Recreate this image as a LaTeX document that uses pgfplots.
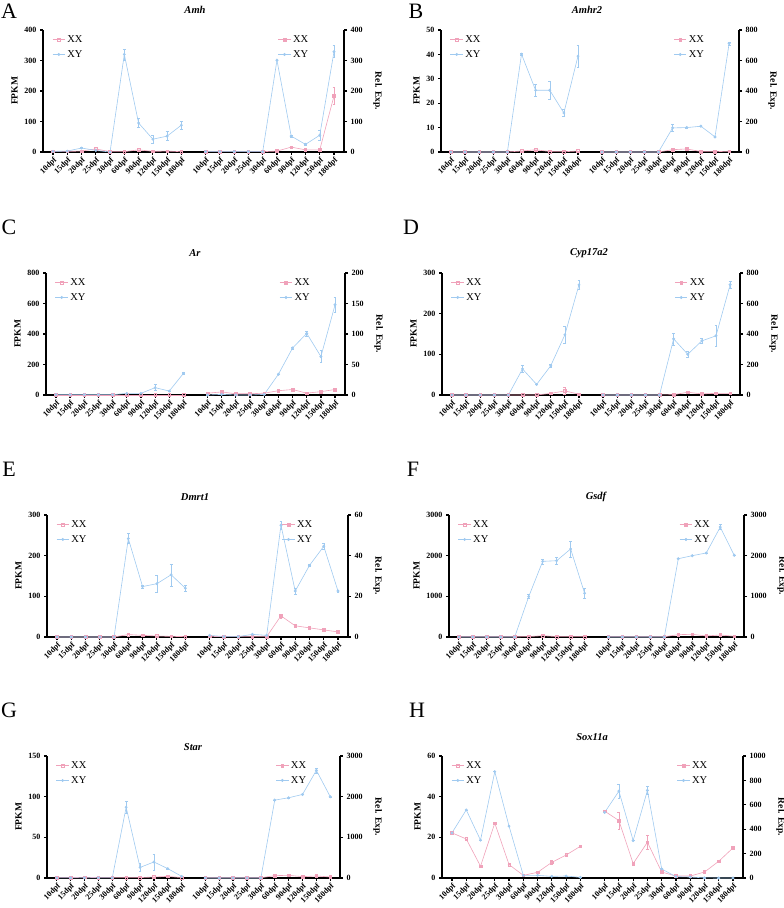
\documentclass[border=0pt]{standalone}
\usepackage{fontspec}
\setmainfont{Liberation Serif}
\usepackage{pgfplots}
\pgfplotsset{compat=1.18}
\definecolor{pinkc}{RGB}{240,162,186}
\definecolor{bluec}{RGB}{160,202,240}
\pgfplotsset{
 common/.style={scale only axis, height=122pt, xmin=-0.7, xmax=20.4, ymin=0, clip=false,
   axis line style={line width=1.2pt, black}, tick align=outside, major tick length=3pt,
   every tick/.style={black, line width=1.2pt},
   /pgf/number format/assume math mode=true, /pgf/number format/1000 sep={},
   tick label style={font=\bfseries\fontsize{8}{9}\selectfont},
   label style={font=\bfseries\fontsize{9.5}{10}\selectfont},
   legend style={draw=none, fill=none, font=\fontsize{10.5}{11}\selectfont, row sep=2.5pt},
   legend cell align=left,
   legend image code/.code={\draw[mark repeat=2,mark phase=2] plot coordinates {(0cm,0cm) (0.22cm,0cm) (0.44cm,0cm)};},
 },
 Lax/.style={common, axis x line*=bottom, axis y line*=left, ylabel={FPKM},
   xtick={0,1,2,3,4,5,6,7,8,9,10.7,11.7,12.7,13.7,14.7,15.7,16.7,17.7,18.7,19.7},
   xticklabels={10dpf,15dpf,20dpf,25dpf,30dpf,60dpf,90dpf,120dpf,150dpf,180dpf,10dpf,15dpf,20dpf,25dpf,30dpf,60dpf,90dpf,120dpf,150dpf,180dpf},
   x tick label style={rotate=45, anchor=north east, inner sep=1pt},
   legend style={at={(0.02,0.99)}, anchor=north west}},
 Rax/.style={common, axis y line*=right, axis x line=none, ylabel={Rel. Exp.}, ylabel style={rotate=180}, ylabel shift=4pt,
   legend style={at={(0.77,0.99)}, anchor=north west}},
 ebar/.style={/pgfplots/error bars/y dir=both, /pgfplots/error bars/y explicit,
   /pgfplots/error bars/error bar style={line width=0.5pt},
   /pgfplots/error bars/error mark options={rotate=90, mark size=1.4pt, line width=0.5pt}},
 sXXL/.style={pinkc, mark=square, mark size=1.3pt, line width=0.6pt, mark options={solid,line width=0.5pt,fill=white}, ebar},
 sXYL/.style={bluec, mark=*, mark size=1.1pt, line width=0.6pt, mark options={solid}, ebar},
 sXXR/.style={pinkc, mark=square*, mark size=1.3pt, line width=0.6pt, mark options={solid}, ebar},
 sXYR/.style={bluec, mark=*, mark size=1.2pt, line width=0.6pt, mark options={solid}, ebar},
}
\begin{document}
\begin{tikzpicture}
\useasboundingbox (0pt,0pt) rectangle (784pt,908pt);
% ---------------- A: Amh
\node[font=\fontsize{22}{24}\selectfont] at (9pt,897pt) {A};
\node[font=\bfseries\itshape\fontsize{10.5}{12}\selectfont] at (195pt,898pt) {Amh};
\begin{axis}[Lax, at={(43pt,756pt)}, anchor=south west, width=301pt, ymax=400, ytick={0,100,200,300,400}]
\addplot[sXXL] table[x=x,y=y,y error=e] {
x y e
0 2 0
1 2 0
2 3 0
3 10 0
4 1 0
5 1 0
6 7 0
7 2 0
8 3 0
9 1 0
};
\addplot[sXYL] table[x=x,y=y,y error=e] {
x y e
0 2 0
1 3 0
2 13 2
3 5 0
4 0 0
5 320 18
6 95 15
7 42 12
8 52 15
9 88 12
};
\legend{XX,XY}
\end{axis}
\begin{axis}[Rax, at={(43pt,756pt)}, anchor=south west, width=301pt, ymax=400, ytick={0,100,200,300,400}]
\addplot[sXXR] table[x=x,y=y,y error=e] {
x y e
10.7 1 0
11.7 1 0
12.7 1 0
13.7 1 0
14.7 1 0
15.7 3 0
16.7 16 0
17.7 7 0
18.7 7 0
19.7 184 28
};
\addplot[sXYR] table[x=x,y=y,y error=e] {
x y e
10.7 1 0
11.7 1 0
12.7 1 0
13.7 1 0
14.7 1 0
15.7 301 0
16.7 52 3
17.7 25 3
18.7 55 15
19.7 329 20
};
\legend{XX,XY}
\end{axis}
% ---------------- B: Amhr2
\node[font=\fontsize{22}{24}\selectfont] at (416pt,897pt) {B};
\node[font=\bfseries\itshape\fontsize{10.5}{12}\selectfont] at (587pt,898pt) {Amhr2};
\begin{axis}[Lax, at={(441pt,756pt)}, anchor=south west, width=298pt, ymax=50, ytick={0,10,20,30,40,50}]
\addplot[sXXL] table[x=x,y=y,y error=e] {
x y e
0 0 0
1 0 0
2 0 0
3 0 0
4 0 0
5 0.4 0
6 0.9 0
7 0.2 0
8 0.1 0
9 0.4 0
};
\addplot[sXYL] table[x=x,y=y,y error=e] {
x y e
0 0 0
1 0 0
2 0 0
3 0 0
4 0 0
5 40.1 0.5
6 25.3 2.5
7 25.3 3.5
8 16 1.5
9 39.3 4.5
};
\legend{XX,XY}
\end{axis}
\begin{axis}[Rax, at={(441pt,756pt)}, anchor=south west, width=298pt, ymax=800, ytick={0,200,400,600,800}]
\addplot[sXXR] table[x=x,y=y,y error=e] {
x y e
10.7 0 0
11.7 0 0
12.7 0 0
13.7 0 0
14.7 0 0
15.7 15 0
16.7 20 0
17.7 3 0
18.7 2 0
19.7 5 0
};
\addplot[sXYR] table[x=x,y=y,y error=e] {
x y e
10.7 0 0
11.7 0 0
12.7 0 0
13.7 0 0
14.7 0 0
15.7 158 25
16.7 160 5
17.7 169 0
18.7 99 5
19.7 712 10
};
\legend{XX,XY}
\end{axis}
% ---------------- C: Ar
\node[font=\fontsize{22}{24}\selectfont] at (9pt,681pt) {C};
\node[font=\bfseries\itshape\fontsize{10.5}{12}\selectfont] at (195pt,655pt) {Ar};
\begin{axis}[Lax, at={(46pt,513pt)}, anchor=south west, width=299pt, ymax=800, ytick={0,200,400,600,800}]
\addplot[sXXL] table[x=x,y=y,y error=e] {
x y e
0 1 0
1 1 0
2 1 0
3 1 0
4 1 0
5 1 0
6 1 0
7 1 0
8 1 0
9 1 0
};
\addplot[sXYL] table[x=x,y=y,y error=e] {
x y e
0 2 0
1 2 0
2 2 0
3 2 0
4 2 0
5 11 0
6 11 0
7 48 20
8 26 0
9 142 5
};
\legend{XX,XY}
\end{axis}
\begin{axis}[Rax, at={(46pt,513pt)}, anchor=south west, width=299pt, ymax=200, ytick={0,50,100,150,200}]
\addplot[sXXR] table[x=x,y=y,y error=e] {
x y e
10.7 3 0
11.7 5 0
12.7 2 0
13.7 2 0
14.7 3 0
15.7 7 0
16.7 9 0
17.7 3 0
18.7 5.5 0
19.7 9 0
};
\addplot[sXYR] table[x=x,y=y,y error=e] {
x y e
10.7 0 0
11.7 1 0
12.7 0 0
13.7 0 0
14.7 1 0
15.7 34 0
16.7 77 2
17.7 101 4
18.7 63 10
19.7 148 12
};
\legend{XX,XY}
\end{axis}
% ---------------- D: Cyp17a2
\node[font=\fontsize{22}{24}\selectfont] at (411pt,681pt) {D};
\node[font=\bfseries\itshape\fontsize{10.5}{12}\selectfont] at (589pt,655pt) {Cyp17a2};
\begin{axis}[Lax, at={(442pt,513pt)}, anchor=south west, width=298pt, ymax=300, ytick={0,100,200,300}]
\addplot[sXXL] table[x=x,y=y,y error=e] {
x y e
0 0 0
1 0 0
2 0 0
3 0 0
4 0 0
5 0 0
6 0 0
7 4 0
8 10 8
9 2 0
};
\addplot[sXYL] table[x=x,y=y,y error=e] {
x y e
0 0 0
1 0 0
2 0 0
3 0 0
4 0 0
5 64 8
6 26 0
7 72 3
8 148 20
9 271 10
};
\legend{XX,XY}
\end{axis}
\begin{axis}[Rax, at={(442pt,513pt)}, anchor=south west, width=298pt, ymax=800, ytick={0,200,400,600,800}]
\addplot[sXXR] table[x=x,y=y,y error=e] {
x y e
10.7 0 0
11.7 0 0
12.7 0 0
13.7 0 0
14.7 0 0
15.7 2 0
16.7 18 0
17.7 7 0
18.7 11 0
19.7 11 0
};
\addplot[sXYR] table[x=x,y=y,y error=e] {
x y e
10.7 0 0
11.7 0 0
12.7 0 0
13.7 0 0
14.7 0 0
15.7 368 40
16.7 267 20
17.7 355 15
18.7 388 70
19.7 723 20
};
\legend{XX,XY}
\end{axis}
% ---------------- E: Dmrt1
\node[font=\fontsize{22}{24}\selectfont] at (9pt,439pt) {E};
\node[font=\bfseries\itshape\fontsize{10.5}{12}\selectfont] at (195pt,411pt) {Dmrt1};
\begin{axis}[Lax, at={(47pt,271pt)}, anchor=south west, width=301pt, ymax=300, ytick={0,100,200,300}]
\addplot[sXXL] table[x=x,y=y,y error=e] {
x y e
0 0 0
1 0 0
2 0 0
3 0 0
4 0 0
5 6 0
6 4 0
7 2.5 0
8 1.5 0
9 1 0
};
\addplot[sXYL] table[x=x,y=y,y error=e] {
x y e
0 0 0
1 0 0
2 0 0
3 0 0
4 0 0
5 242 12
6 124 3
7 131 22
8 153 27
9 120 7
};
\legend{XX,XY}
\end{axis}
\begin{axis}[Rax, at={(47pt,271pt)}, anchor=south west, width=301pt, ymax=60, ytick={0,20,40,60}]
\addplot[sXXR] table[x=x,y=y,y error=e] {
x y e
10.7 0.3 0
11.7 0.2 0
12.7 0.2 0
13.7 0.2 0
14.7 0.2 0
15.7 10.4 1
16.7 5.5 0
17.7 4.5 0
18.7 3.5 0
19.7 2.5 0
};
\addplot[sXYR] table[x=x,y=y,y error=e] {
x y e
10.7 0.8 0
11.7 0.2 0
12.7 0.2 0
13.7 1.3 0
14.7 0.8 0
15.7 55 2
16.7 22.6 1.5
17.7 35.2 0.5
18.7 44.6 1.5
19.7 22.6 0.5
};
\legend{XX,XY}
\end{axis}
% ---------------- F: Gsdf
\node[font=\fontsize{22}{24}\selectfont] at (413pt,439pt) {F};
\node[font=\bfseries\itshape\fontsize{10.5}{12}\selectfont] at (596pt,411pt) {Gsdf};
\begin{axis}[Lax, at={(449pt,271pt)}, anchor=south west, width=295pt, ymax=3000, ytick={0,1000,2000,3000}]
\addplot[sXXL] table[x=x,y=y,y error=e] {
x y e
0 5 0
1 5 0
2 5 0
3 5 0
4 5 0
5 10 0
6 33 0
7 10 0
8 10 0
9 10 0
};
\addplot[sXYL] table[x=x,y=y,y error=e] {
x y e
0 0 0
1 0 0
2 0 0
3 0 0
4 0 0
5 992 50
6 1860 60
7 1876 80
8 2165 200
9 1074 130
};
\legend{XX,XY}
\end{axis}
\begin{axis}[Rax, at={(449pt,271pt)}, anchor=south west, width=295pt, ymax=3000, ytick={0,1000,2000,3000}]
\addplot[sXXR] table[x=x,y=y,y error=e] {
x y e
10.7 5 0
11.7 5 0
12.7 5 0
13.7 5 0
14.7 5 0
15.7 58 0
16.7 66 0
17.7 25 0
18.7 50 0
19.7 17 0
};
\addplot[sXYR] table[x=x,y=y,y error=e] {
x y e
10.7 0 0
11.7 0 0
12.7 0 0
13.7 0 0
14.7 0 0
15.7 1925 0
16.7 2000 0
17.7 2066 0
18.7 2702 60
19.7 2008 0
};
\legend{XX,XY}
\end{axis}
% ---------------- G: Star
\node[font=\fontsize{22}{24}\selectfont] at (9pt,198pt) {G};
\node[font=\bfseries\itshape\fontsize{10.5}{12}\selectfont] at (193pt,161pt) {Star};
\begin{axis}[Lax, at={(47pt,30pt)}, anchor=south west, width=293pt, ymax=150, ytick={0,50,100,150}]
\addplot[sXXL] table[x=x,y=y,y error=e] {
x y e
0 0.5 0
1 0.5 0
2 0.8 0
3 0.5 0
4 0.5 0
5 0.5 0
6 0.5 0
7 1.2 0
8 2 0
9 0.5 0
};
\addplot[sXYL] table[x=x,y=y,y error=e] {
x y e
0 0.2 0
1 0.2 0
2 0.2 0
3 0.2 0
4 0.2 0
5 87 7
6 13 5
7 19.7 10
8 11.5 1
9 2 0
};
\legend{XX,XY}
\end{axis}
\begin{axis}[Rax, at={(47pt,30pt)}, anchor=south west, width=293pt, ymax=3000, ytick={0,1000,2000,3000}]
\addplot[sXXR] table[x=x,y=y,y error=e] {
x y e
10.7 5 0
11.7 5 0
12.7 5 0
13.7 5 0
14.7 5 0
15.7 58 0
16.7 66 0
17.7 33 0
18.7 50 0
19.7 25 0
};
\addplot[sXYR] table[x=x,y=y,y error=e] {
x y e
10.7 0 0
11.7 0 0
12.7 0 0
13.7 0 0
14.7 0 0
15.7 1915 0
16.7 1973 0
17.7 2055 0
18.7 2647 60
19.7 1997 0
};
\legend{XX,XY}
\end{axis}
% ---------------- H: Sox11a
\node[font=\fontsize{22}{24}\selectfont] at (417pt,198pt) {H};
\node[font=\bfseries\itshape\fontsize{10.5}{12}\selectfont] at (592pt,171pt) {Sox11a};
\begin{axis}[Lax, at={(442pt,30pt)}, anchor=south west, width=301pt, ymax=60, ytick={0,20,40,60}]
\addplot[sXXL] table[x=x,y=y,y error=e] {
x y e
0 22.2 0
1 19.2 0
2 5.8 0
3 27 0
4 6.6 0
5 1.3 0
6 2.8 0
7 7.7 1
8 11.3 0
9 15.6 0
};
\addplot[sXYL] table[x=x,y=y,y error=e] {
x y e
0 22.2 0
1 33.5 0
2 18.6 0
3 52.3 0
4 25.5 0
5 1.3 0
6 1.3 0
7 0.8 0
8 1 0
9 0.3 0
};
\legend{XX,XY}
\end{axis}
\begin{axis}[Rax, at={(442pt,30pt)}, anchor=south west, width=301pt, ymax=1000, ytick={0,200,400,600,800,1000}]
\addplot[sXXR] table[x=x,y=y,y error=e] {
x y e
10.7 548 10
11.7 471 70
12.7 118 0
13.7 293 55
14.7 49 0
15.7 16 0
16.7 16 0
17.7 49 0
18.7 137 10
19.7 247 10
};
\addplot[sXYR] table[x=x,y=y,y error=e] {
x y e
10.7 537 0
11.7 712 60
12.7 307 0
13.7 718 30
14.7 74 10
15.7 11 0
16.7 8 0
17.7 1 0
18.7 0 0
19.7 0 0
};
\legend{XX,XY}
\end{axis}
\end{tikzpicture}
\end{document}
